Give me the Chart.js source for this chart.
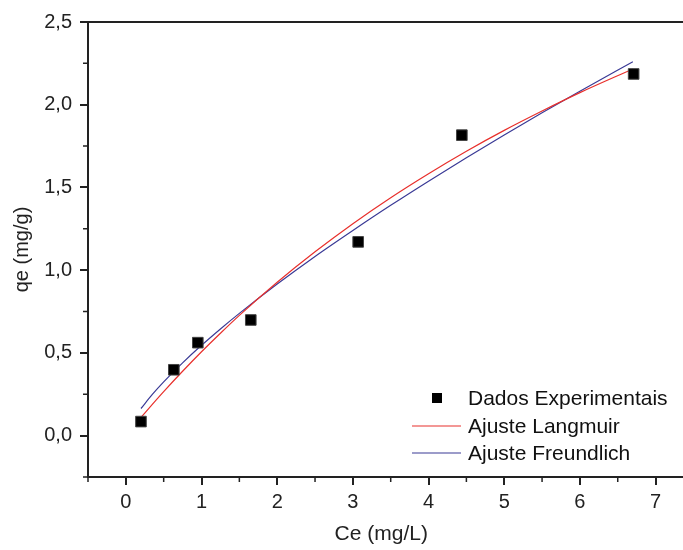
<!DOCTYPE html>
<html lang="pt">
  <head>
    <meta charset="UTF-8" />
    <title>Isotermas</title>
    <script src="https://cdn.jsdelivr.net/npm/chart.js"></script>
    <style>
      body { margin: 0; background: #fff; }
      canvas { display: block; }
    </style>
  </head>
  <body>
    <canvas id="myChart" width="683" height="550"></canvas>

    <script>
      // dados experimentais
      const ceData = [0.2, 0.634, 0.951, 1.651, 3.07, 4.44, 6.71];
      const qeData = [0.085, 0.398, 0.562, 0.699, 1.171, 1.816, 2.186];

      // curvas ajustadas
      const fitX = [0.2, 0.35, 0.5, 0.75, 1, 1.25, 1.5, 2, 2.5, 3, 3.5, 4, 4.5, 5, 5.5, 6, 6.7];
      const langY = [0.110, 0.189, 0.266, 0.389, 0.507, 0.619, 0.727, 0.927, 1.111, 1.281, 1.438, 1.583, 1.719, 1.845, 1.962, 2.073, 2.216];
      const freuY = [0.164, 0.249, 0.325, 0.440, 0.546, 0.645, 0.739, 0.916, 1.083, 1.240, 1.392, 1.538, 1.679, 1.817, 1.951, 2.082, 2.260];

      // ticks
      const xTicks = [0, 1, 2, 3, 4, 5, 6, 7];
      const xMinor = [-0.5, 0.5, 1.5, 2.5, 3.5, 4.5, 5.5, 6.5];
      const yTicks = [0, 0.5, 1, 1.5, 2, 2.5];
      const yMinor = [-0.25, 0.25, 0.75, 1.25, 1.75, 2.25];

      const axisColor = "#222";
      const font = "'Liberation Sans', Arial, sans-serif";

      const pts = (xs, ys) => xs.map((x, i) => ({ x: x, y: ys[i] }));

      // moldura superior e ticks menores
      const framePlugin = {
        id: "frame",
        afterDraw(chart) {
          const { ctx, chartArea } = chart;
          const sx = chart.scales.x;
          const sy = chart.scales.y;
          ctx.save();
          ctx.strokeStyle = axisColor;
          ctx.lineWidth = 2;
          ctx.beginPath();
          ctx.moveTo(chartArea.left - 1, chartArea.top);
          ctx.lineTo(chart.width, chartArea.top);
          ctx.moveTo(chartArea.right, chartArea.bottom);
          ctx.lineTo(chart.width, chartArea.bottom);
          ctx.stroke();

          ctx.lineWidth = 1.5;
          ctx.beginPath();
          xMinor.forEach((v) => {
            const px = sx.getPixelForValue(v);
            ctx.moveTo(px, chartArea.bottom);
            ctx.lineTo(px, chartArea.bottom + 5);
          });
          yMinor.forEach((v) => {
            const py = sy.getPixelForValue(v);
            ctx.moveTo(chartArea.left - 5, py);
            ctx.lineTo(chartArea.left, py);
          });
          ctx.stroke();
          ctx.restore();
        },
      };

      // legenda dentro da area do grafico
      const legendPlugin = {
        id: "innerLegend",
        afterDraw(chart) {
          const { ctx } = chart;
          const ds = chart.data.datasets;
          const x0 = 412, x1 = 461, tx = 468;
          const rows = [398, 426, 453];
          ctx.save();
          ctx.font = `21px ${font}`;
          ctx.textBaseline = "middle";
          ds.forEach((d, i) => {
            const y = rows[i];
            if (d.showLine === false) {
              ctx.fillStyle = "#000";
              ctx.fillRect(437 - 5, y - 5, 10, 10);
            } else {
              ctx.strokeStyle = d.borderColor;
              ctx.lineWidth = 1.2;
              ctx.beginPath();
              ctx.moveTo(x0, y);
              ctx.lineTo(x1, y);
              ctx.stroke();
            }
            ctx.fillStyle = "#111";
            ctx.fillText(d.label, tx, y + 1);
          });
          ctx.restore();
        },
      };

      new Chart(document.getElementById("myChart").getContext("2d"), {
        type: "scatter",
        data: {
          datasets: [
            {
              label: "Dados Experimentais",
              data: pts(ceData, qeData),
              showLine: false,
              pointStyle: "rect",
              pointRadius: 7.5,
              backgroundColor: "#000",
              borderColor: "#444",
              borderWidth: 1,
              order: 0,
            },
            {
              label: "Ajuste Langmuir",
              data: pts(fitX, langY),
              showLine: true,
              borderColor: "#e8302c",
              borderWidth: 1.2,
              pointRadius: 0,
              tension: 0.4,
              cubicInterpolationMode: "monotone",
              order: 1,
            },
            {
              label: "Ajuste Freundlich",
              data: pts(fitX, freuY),
              showLine: true,
              borderColor: "#3a3a96",
              borderWidth: 1.2,
              pointRadius: 0,
              tension: 0.4,
              cubicInterpolationMode: "monotone",
              order: 2,
            },
          ],
        },
        options: {
          responsive: false,
          animation: false,
          layout: { padding: { top: 22, left: 0, right: 0, bottom: 0 } },
          plugins: {
            legend: { display: false },
            tooltip: { enabled: false },
          },
          scales: {
            x: {
              type: "linear",
              min: -0.5,
              max: 7.25,
              afterBuildTicks(scale) {
                scale.ticks = xTicks.map((v) => ({ value: v }));
              },
              afterFit(scale) {
                scale.height = 73;
                scale.paddingLeft = 0;
                scale.paddingRight = 0;
              },
              border: { display: true, width: 2, color: axisColor },
              grid: {
                drawOnChartArea: false,
                drawTicks: true,
                tickLength: 8,
                lineWidth: 2,
                color: axisColor,
              },
              ticks: {
                padding: 5,
                color: axisColor,
                font: { family: font, size: 20 },
                callback: (v) => String(v),
              },
              title: {
                display: true,
                text: "Ce (mg/L)",
                color: axisColor,
                font: { family: font, size: 21 },
                padding: { top: 0, bottom: 3 },
              },
            },
            y: {
              type: "linear",
              min: -0.25,
              max: 2.5,
              afterBuildTicks(scale) {
                scale.ticks = yTicks.map((v) => ({ value: v }));
              },
              afterFit(scale) {
                scale.width = 88;
              },
              border: { display: true, width: 2, color: axisColor },
              grid: {
                drawOnChartArea: false,
                drawTicks: true,
                tickLength: 8,
                lineWidth: 2,
                color: axisColor,
              },
              ticks: {
                padding: 8,
                color: axisColor,
                font: { family: font, size: 20 },
                callback: (v) => v.toFixed(1).replace(".", ","),
              },
              title: {
                display: true,
                text: "qe (mg/g)",
                color: axisColor,
                font: { family: font, size: 20 },
                padding: { top: 10, bottom: 0 },
              },
            },
          },
        },
        plugins: [framePlugin, legendPlugin],
      });
    </script>
  </body>
</html>
